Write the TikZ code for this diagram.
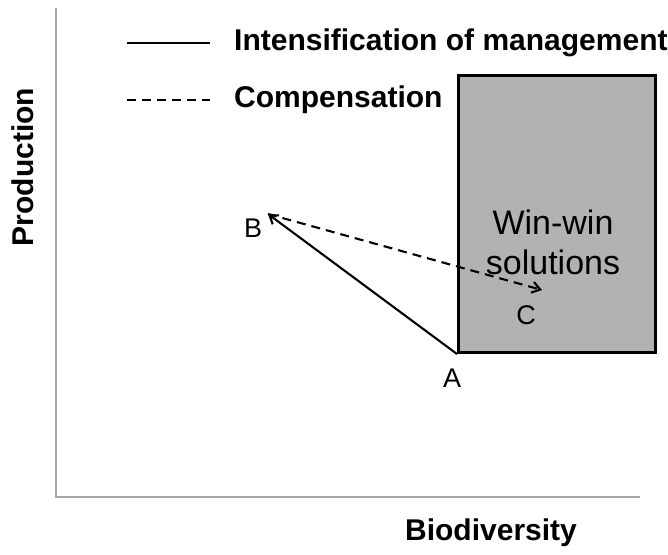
\documentclass[tikz,border=0pt]{standalone}
\usepackage{fontspec}
\setmainfont{Liberation Sans}
\usetikzlibrary{arrows.meta,positioning}

\begin{document}
\begin{tikzpicture}[x=1pt, y=-1pt, > = {Straight Barb[length=8pt,width=11pt]}]
    \tikzset{
      axis/.style={draw=gray!70, line width=1.3pt},
      ttl/.style={font=\fontsize{30}{34}\selectfont\bfseries, inner sep=0pt},
      lbl/.style={font=\fontsize{27}{30}\selectfont, inner sep=0pt},
      win/.style={draw, fill=gray!60, line width=2.6pt, minimum width=197pt, minimum height=277pt, inner sep=0pt},
      move/.style={line width=2.1pt},
      comp/.style={move, dash pattern=on 9pt off 6pt},
    }
    \useasboundingbox (0,0) rectangle (668,554);
    % axes
    \coordinate (o) at (56,497);
    \coordinate (ytop) at (56,8);
    \coordinate (xend) at (640,497);
    \draw[axis] (ytop) -- (o) -- (xend);
    \node [ttl, rotate=90] (ylab) at (23,167) {Production};
    \node [ttl] (xlab) at (491,533) {Biodiversity};
    % win-win area
    \coordinate (A) at (457,354);
    \node [win, anchor=south west] (box) at (A) {};
    \node [font=\fontsize{34}{40}\selectfont, align=center, inner sep=0pt] (wintxt) at (553,242) {Win-win\\solutions};
    % points
    \coordinate (B) at (268,214);
    \coordinate (C) at (542,290);
    \node [lbl] (la) at (452,378) {A};
    \node [lbl] (lb) at (253,228) {B};
    \node [lbl] (lc) at (526,315) {C};
    \draw[move,->] (A) -- (B);
    \draw[comp,->] (B) -- (C);
    % legend
    \coordinate (s1) at (127,43);
    \coordinate (s2) at (210,43);
    \coordinate (d1) at (127,100);
    \coordinate (d2) at (210,100);
    \draw[move] (s1) -- (s2);
    \draw[comp] (d1) -- (d2);
    \node [ttl, right=24pt of s2] (lgint) {Intensification of management};
    \node [ttl, right=24pt of d2] (lgcomp) {Compensation};
  \end{tikzpicture}
\end{document}
